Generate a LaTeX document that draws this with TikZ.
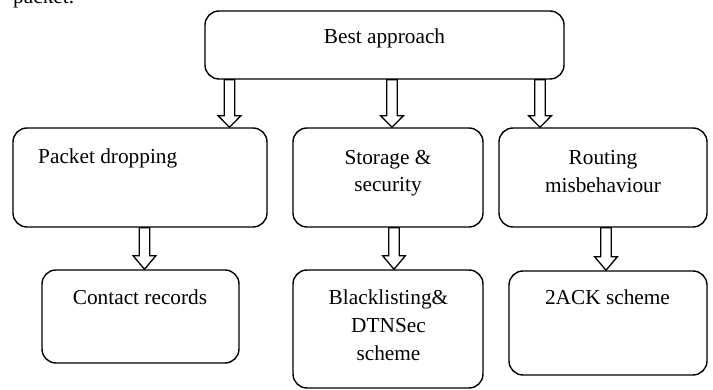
\documentclass[tikz,border=0pt]{standalone}
\usepackage{fontspec}
\setmainfont{Liberation Serif}
\usetikzlibrary{calc}
\tikzset{
  box/.style={draw=black, line width=1.4pt, rounded corners=14pt, inner sep=0pt, fill=white},
  lbl/.style={inner sep=0pt, anchor=base, font=\fontsize{21.3}{28}\selectfont},
  blockarrow/.style={draw=black, line width=1.3pt, line join=miter, fill=white,
    to path={let \p1=(\tikztostart), \p2=(\tikztotarget) in
      (\x1-5.3pt,\y1) -- (\x1-5.3pt,\y2+#1) -- (\x1-11.3pt,\y2+#1) -- (\x1,\y2)
      -- (\x1+11.3pt,\y2+#1) -- (\x1+5.3pt,\y2+#1) -- (\x1+5.3pt,\y1) -- cycle}},
  blockarrow/.default=11.5pt
}
\begin{document}
\begin{tikzpicture}[x=1pt, y=-1pt]
\useasboundingbox (0,0) rectangle (713,390);
\clip (0,0) rectangle (713,390);
% partial text at top
\node[lbl, anchor=base west] (pk) at (13,4) {packet.};
% boxes
\node[box, minimum width=359pt, minimum height=68pt] (top) at (384.5,45) {};
\node[box, minimum width=254pt, minimum height=99pt] (b1) at (140,177.5) {};
\node[box, minimum width=190pt, minimum height=99pt] (b2) at (388,177.5) {};
\node[box, minimum width=208pt, minimum height=99pt] (b3) at (603,177.5) {};
\node[box, minimum width=197pt, minimum height=93pt] (c1) at (140.5,316.5) {};
\node[box, minimum width=190pt, minimum height=118pt] (c2) at (388,329) {};
\node[box, minimum width=198pt, minimum height=104pt] (c3) at (608,323) {};
% labels
\node[lbl] (ttop) at (384.5,44) {Best approach};
\node[lbl, anchor=base west] (tb1) at (38,164) {Packet dropping};
\node[lbl] (tb2a) at (388,165) {Storage \&};
\node[lbl] (tb2b) at (388,192) {security};
\node[lbl] (tb3a) at (603,165) {Routing};
\node[lbl] (tb3b) at (603,193) {misbehaviour};
\node[lbl] (tc1) at (140,305) {Contact records};
\node[lbl] (tc2a) at (388.5,305) {Blacklisting\&};
\node[lbl] (tc2b) at (388.5,333) {DTNSec};
\node[lbl] (tc2c) at (388.5,361) {scheme};
\node[lbl] (tc3) at (607.5,305) {2ACK scheme};
% arrow columns
\coordinate (x1) at (229.5,0);
\coordinate (x2) at (392,0);
\coordinate (x3) at (540,0);
\coordinate (x4) at (144.5,0);
\coordinate (x5) at (394,0);
\coordinate (x6) at (606,0);
\draw[blockarrow] (x1 |- top.south) to (x1 |- b1.north);
\draw[blockarrow] (x2 |- top.south) to (x2 |- b2.north);
\draw[blockarrow] (x3 |- top.south) to (x3 |- b3.north);
\draw[blockarrow=13.5pt] (x4 |- b1.south) to (x4 |- c1.north);
\draw[blockarrow=13.5pt] (x5 |- b2.south) to (x5 |- c2.north);
\draw[blockarrow=13.5pt] (x6 |- b3.south) to (x6 |- c3.north);
\end{tikzpicture}
\end{document}
